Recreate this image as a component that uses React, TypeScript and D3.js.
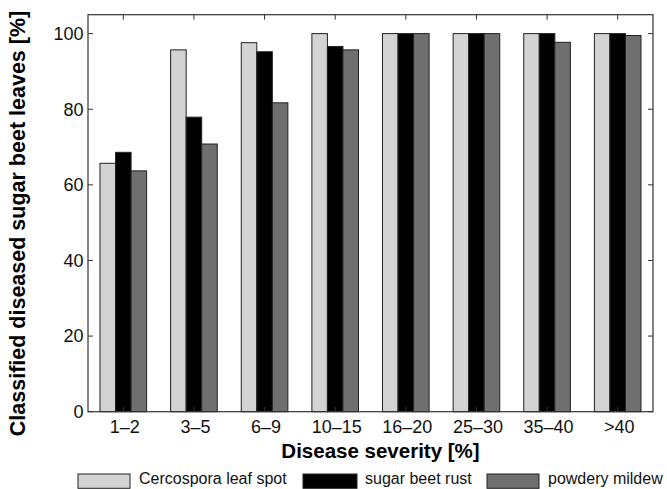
import React from "react";
import * as d3 from "d3";

const categories = ["1–2", "3–5", "6–9", "10–15", "16–20", "25–30", "35–40", ">40"];
const cercospora = [65.7, 95.7, 97.6, 100, 100, 100, 100, 100];
const rust = [68.6, 77.9, 95.2, 96.6, 100, 100, 100, 100];
const mildew = [63.7, 70.8, 81.7, 95.7, 100, 100, 97.7, 99.5];
const yTicks = [0, 20, 40, 60, 80, 100];
const seriesNames = ["Cercospora leaf spot", "sugar beet rust", "powdery mildew"];
const seriesColors = ["#d3d3d3", "#000000", "#6f6f6f"];

const W = 667;
const H = 489;
const left = 88;
const right = 653;
const top = 14.7;
const bottom = 411.7;
const font = "'Liberation Sans', Arial, Helvetica, sans-serif";

export default function App() {
  const x = d3.scaleLinear().domain([0.5, 8.5]).range([left, right]);
  const y = d3.scaleLinear().domain([0, 105]).range([bottom, top]);
  const series = [cercospora, rust, mildew];
  const barW = 0.22;
  const frame = "#333";
  const legendBoxes = [
    { x0: 78, x1: 130, tx: 139 },
    { x0: 303, x1: 357, tx: 365 },
    { x0: 487, x1: 539, tx: 548 },
  ];
  return (
    <svg width={W} height={H} style={{ position: "absolute", left: 0, top: 0, background: "#fff" }}>
      <rect x={0} y={0} width={W} height={H} fill="#fff" />
      {series.map((vals, si) =>
        vals.map((v, i) => {
          const c = i + 1 + (si - 1) * barW;
          const x0 = x(c - barW / 2);
          const x1 = x(c + barW / 2);
          return (
            <rect
              key={`${si}-${i}`}
              x={x0}
              y={y(v)}
              width={x1 - x0}
              height={y(0) - y(v)}
              fill={seriesColors[si]}
              stroke="#222"
              strokeWidth={1}
            />
          );
        })
      )}
      {/* frame */}
      <rect x={left} y={top} width={right - left} height={bottom - top} fill="none" stroke={frame} strokeWidth={1.2} />
      {/* y ticks */}
      {yTicks.map((t) => (
        <g key={t}>
          <line x1={left} x2={left + 5} y1={y(t)} y2={y(t)} stroke={frame} />
          <line x1={right} x2={right - 5} y1={y(t)} y2={y(t)} stroke={frame} />
          <text x={left - 4.5} y={y(t) + 6.3} textAnchor="end" fontFamily={font} fontSize={18} fill="#111">
            {t}
          </text>
        </g>
      ))}
      {/* x ticks */}
      {categories.map((c, i) => (
        <g key={c}>
          <line x1={x(i + 1)} x2={x(i + 1)} y1={top} y2={top + 5} stroke={frame} />
          <line x1={x(i + 1)} x2={x(i + 1)} y1={bottom} y2={bottom - 5} stroke={frame} />
          <text x={x(i + 1) + 1.5} y={433} textAnchor="middle" fontFamily={font} fontSize={18} fill="#111">
            {c}
          </text>
        </g>
      ))}
      <text x={380.5} y={457.7} textAnchor="middle" fontFamily={font} fontSize={20.5} fontWeight="bold" fill="#000">
        Disease severity [%]
      </text>
      <text
        transform={`translate(24.7, 223.5) rotate(-90)`}
        textAnchor="middle"
        fontFamily={font}
        fontSize={21.5}
        fontWeight="bold"
        fill="#000"
      >
        Classified diseased sugar beet leaves [%]
      </text>
      {/* legend */}
      {legendBoxes.map((b, i) => (
        <g key={i}>
          <rect x={b.x0} y={474} width={b.x1 - b.x0} height={14.3} fill={seriesColors[i]} stroke="#222" strokeWidth={1} />
          <text x={b.tx} y={484} fontFamily={font} fontSize={16} fill="#111">
            {seriesNames[i]}
          </text>
        </g>
      ))}
    </svg>
  );
}
